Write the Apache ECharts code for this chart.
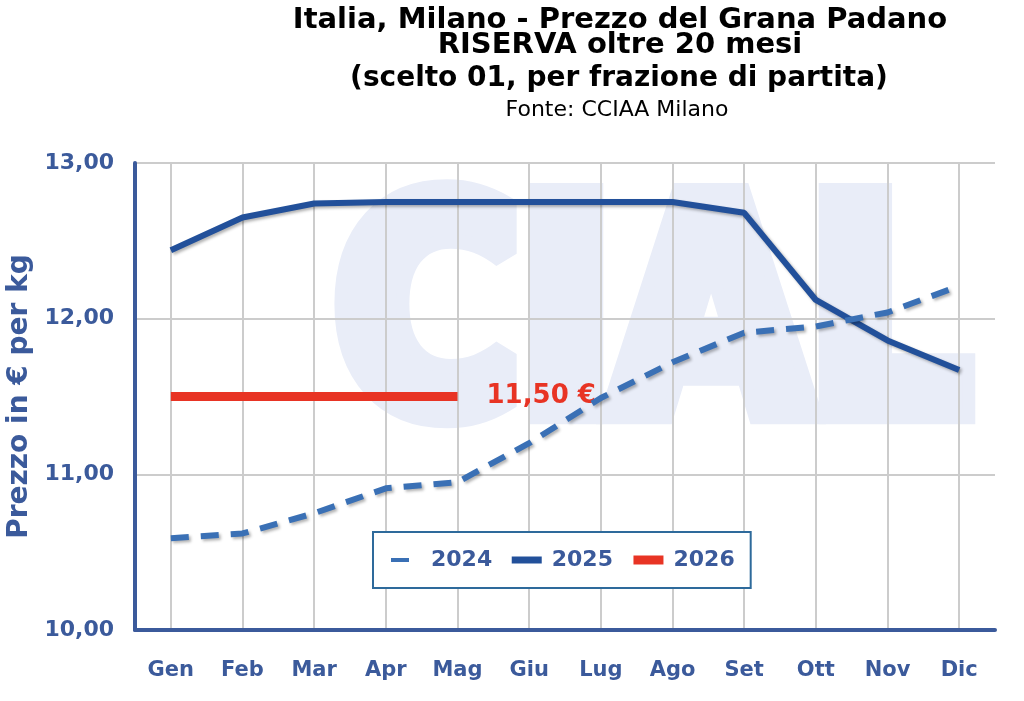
<!DOCTYPE html>
<html>
<head>
<meta charset="utf-8">
<script src="https://cdn.jsdelivr.net/npm/echarts@6/dist/echarts.min.js"></script>
<style>
  html, body { margin: 0; padding: 0; background: #fff; }
  #chart { width: 1024px; height: 701px; }
</style>
</head>
<body>
<div id="chart"></div>
<script>
// months on the x axis
var months = ['Gen', 'Feb', 'Mar', 'Apr', 'Mag', 'Giu', 'Lug', 'Ago', 'Set', 'Ott', 'Nov', 'Dic'];

// prices in euro per kg
var prices2024 = [10.59, 10.62, 10.75, 10.91, 10.95, 11.20, 11.49, 11.72, 11.91, 11.95, 12.04, 12.21];
var prices2025 = [12.44, 12.65, 12.74, 12.75, 12.75, 12.75, 12.75, 12.75, 12.68, 12.12, 11.86, 11.67];
var prices2026 = [11.50, 11.50, 11.50, 11.50, 11.50];

var titleLines = [
  'Italia, Milano - Prezzo del Grana Padano',
  'RISERVA oltre 20 mesi',
  '(scelto 01, per frazione di partita)'
];
var sourceText = 'Fonte: CCIAA Milano';

var axisBlue = '#3b5a9b';
var font = 'DejaVu Sans';

function euro(v) {
  return v.toFixed(2).replace('.', ',');
}

var chart = echarts.init(document.getElementById('chart'));

var lineShadow = {
  shadowColor: 'rgba(0,0,0,0.3)',
  shadowBlur: 3,
  shadowOffsetX: 2,
  shadowOffsetY: 2
};

var option = {
  animation: false,
  textStyle: { fontFamily: font },
  graphic: [
    // faint watermark, on a lower layer so the grid lines stay on top
    {
      type: 'text',
      x: 652,
      y: 334,
      scaleY: 1.15,
      zlevel: -1,
      silent: true,
      style: {
        text: 'CIAL',
        font: 'bold 252px "DejaVu Sans"',
        fill: '#e9edf8',
        stroke: '#e9edf8',
        lineWidth: 26,
        lineJoin: 'round',
        textAlign: 'center',
        textVerticalAlign: 'middle'
      }
    },
    {
      type: 'text', x: 620, y: 20,
      style: { text: titleLines[0], font: 'bold 29px "DejaVu Sans"', fill: '#000', textAlign: 'center', textVerticalAlign: 'middle' }
    },
    {
      type: 'text', x: 620, y: 45,
      style: { text: titleLines[1], font: 'bold 29px "DejaVu Sans"', fill: '#000', textAlign: 'center', textVerticalAlign: 'middle' }
    },
    {
      type: 'text', x: 619, y: 79,
      style: { text: titleLines[2], font: 'bold 28px "DejaVu Sans"', fill: '#000', textAlign: 'center', textVerticalAlign: 'middle' }
    },
    {
      type: 'text', x: 617, y: 110,
      style: { text: sourceText, font: '22px "DejaVu Sans"', fill: '#000', textAlign: 'center', textVerticalAlign: 'middle' }
    }
  ],
  legend: {
    left: 373,
    top: 532,
    z: 20,
    padding: [17, 16, 17, 16],
    itemGap: 16,
    itemWidth: 30,
    itemHeight: 14,
    borderColor: '#2e6a9b',
    borderWidth: 2,
    backgroundColor: '#fff',
    itemStyle: { color: 'rgba(0,0,0,0)', borderColor: 'rgba(0,0,0,0)', borderWidth: 0, shadowBlur: 0, shadowColor: 'rgba(0,0,0,0)' },
    textStyle: {
      color: axisBlue,
      fontSize: 22,
      fontWeight: 'bold',
      fontFamily: font,
      padding: [0, 0, 0, 5]
    },
    data: [
      { name: '2024', lineStyle: { width: 4 } },
      { name: '2025', lineStyle: { width: 7 } },
      { name: '2026', lineStyle: { width: 9 } }
    ]
  },
  grid: {
    left: 135,
    right: 29,
    top: 163,
    bottom: 71,
    outerBoundsMode: 'none'
  },
  xAxis: {
    type: 'category',
    data: months,
    boundaryGap: true,
    z: 5,
    axisLine: { lineStyle: { color: axisBlue, width: 4 } },
    axisTick: { alignWithLabel: true, length: 10, lineStyle: { color: axisBlue, width: 2 } },
    axisLabel: { color: axisBlue, fontSize: 21, fontWeight: 'bold', margin: 30, interval: 0 },
    splitLine: { show: true, alignWithLabel: true, interval: 0, lineStyle: { color: '#cccccc', width: 2 } }
  },
  yAxis: {
    type: 'value',
    min: 10,
    max: 13,
    interval: 1,
    z: 5,
    name: 'Prezzo in € per kg',
    nameLocation: 'middle',
    nameGap: 97,
    nameTextStyle: { color: axisBlue, fontSize: 28, fontWeight: 'bold' },
    axisLine: { show: true, lineStyle: { color: axisBlue, width: 4 } },
    axisTick: { show: false },
    axisLabel: { color: axisBlue, fontSize: 22, fontWeight: 'bold', margin: 21, formatter: euro },
    splitLine: { lineStyle: { color: '#cccccc', width: 2 } }
  },
  series: [
    {
      name: '2024',
      type: 'line',
      data: prices2024,
      symbol: 'none',
      z: 12,
      lineStyle: Object.assign({ color: '#3a70b5', width: 6, type: [18, 12] }, lineShadow),
      itemStyle: { color: '#3a70b5' }
    },
    {
      name: '2025',
      type: 'line',
      data: prices2025,
      symbol: 'none',
      z: 11,
      lineStyle: Object.assign({ color: '#22509a', width: 6 }, lineShadow),
      itemStyle: { color: '#22509a' }
    },
    {
      name: '2026',
      type: 'line',
      data: prices2026,
      symbol: 'none',
      z: 10,
      lineStyle: { color: '#e83424', width: 9 },
      itemStyle: { color: '#e83424' },
      endLabel: {
        show: true,
        distance: 29,
        color: '#e83424',
        fontSize: 26,
        fontWeight: 'bold',
        formatter: function (p) { return euro(p.value) + ' €'; }
      }
    }
  ]
};

chart.setOption(option);
</script>
</body>
</html>
